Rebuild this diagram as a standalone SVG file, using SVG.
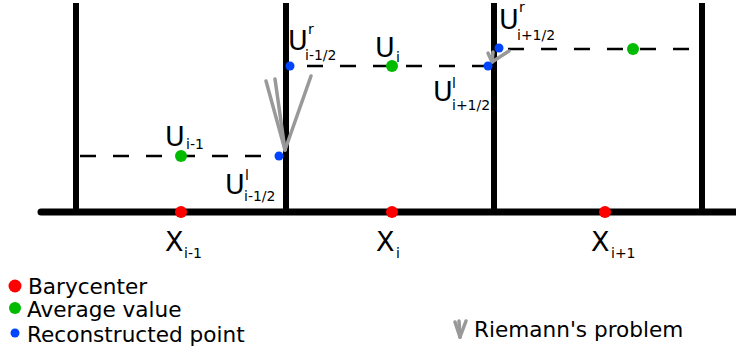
<svg xmlns="http://www.w3.org/2000/svg" width="736" height="349" viewBox="0 0 736 349">
<style>
.ax{stroke:#000;stroke-width:7;stroke-linecap:round;fill:none}
.vl{stroke:#000;stroke-width:6;fill:none}
.ds{stroke:#000;stroke-width:2.6;stroke-dasharray:16 17;fill:none}
.rm{stroke:#999;stroke-width:3.5;stroke-linecap:round;fill:none}
.r{fill:#ff0000}.g{fill:#00bb00}.b{fill:#0044ff}
text{font-family:"DejaVu Sans",sans-serif;fill:#000}
.big{font-size:27px}.sm{font-size:14px}.lg{font-size:21.6px}
</style>
<g id="grid">
<line class="ax" x1="41" y1="212" x2="740" y2="212"/>
<line class="vl" x1="76" y1="3" x2="76" y2="212"/>
<line class="vl" x1="286" y1="3" x2="286" y2="212"/>
<line class="vl" x1="494" y1="3" x2="494" y2="212"/>
<line class="vl" x1="702" y1="3" x2="702" y2="212"/>
</g>
<g id="connectors">
<line class="ds" x1="80" y1="156" x2="282" y2="156"/>
<line class="ds" x1="307" y1="66" x2="488" y2="66"/>
<line class="ds" x1="508" y1="49" x2="702" y2="49"/>
<line class="rm" x1="285" y1="150" x2="266" y2="81"/>
<line class="rm" x1="285" y1="150" x2="275" y2="79"/>
<line class="rm" x1="285" y1="150" x2="311" y2="76"/>
<line class="rm" x1="492" y1="62" x2="488" y2="53"/>
<line class="rm" x1="492" y1="62" x2="493" y2="52"/>
<line class="rm" x1="492" y1="62" x2="509" y2="51"/>
</g>
<g id="cell-i-1">
<circle class="r" cx="181" cy="212" r="6"/>
<circle class="g" cx="181" cy="156" r="6"/>
<text class="big" x="165" y="146">U</text><text class="sm" x="186" y="149">i-1</text>
<text class="big" x="165" y="251">X</text><text class="sm" x="184" y="258">i-1</text>
</g>
<g id="iface-i-1/2">
<circle class="b" cx="279" cy="156" r="4.5"/>
<circle class="b" cx="290" cy="66" r="4.5"/>
<text class="big" x="225" y="194">U</text><text class="sm" x="245" y="180">l</text><text class="sm" x="244" y="201">i-1/2</text>
<text class="big" x="288" y="50">U</text><text class="sm" x="308" y="34">r</text><text class="sm" x="305" y="60">i-1/2</text>
</g>
<g id="cell-i">
<circle class="r" cx="392" cy="212" r="6"/>
<circle class="g" cx="392" cy="66" r="6"/>
<text class="big" x="375" y="57">U</text><text class="sm" x="396" y="62">i</text>
<text class="big" x="376" y="251">X</text><text class="sm" x="396" y="258">i</text>
</g>
<g id="iface-i+1/2">
<circle class="b" cx="488" cy="66" r="4.5"/>
<circle class="b" cx="499" cy="48" r="4.5"/>
<text class="big" x="433" y="101">U</text><text class="sm" x="452" y="88">l</text><text class="sm" x="452" y="110">i+1/2</text>
<text class="big" x="499" y="29">U</text><text class="sm" x="519" y="12">r</text><text class="sm" x="517" y="40">i+1/2</text>
</g>
<g id="cell-i+1">
<circle class="r" cx="605" cy="212" r="6"/>
<circle class="g" cx="633" cy="49" r="6"/>
<text class="big" x="591" y="251">X</text><text class="sm" x="611" y="258">i+1</text>
</g>
<g id="legend">
<circle class="r" cx="15" cy="286" r="6.5"/><text class="lg" x="28" y="294">Barycenter</text>
<circle class="g" cx="15" cy="308" r="6"/><text class="lg" x="27" y="317">Average value</text>
<circle class="b" cx="15" cy="333" r="4.5"/><text class="lg" x="27" y="342">Reconstructed point</text>
<line class="rm" x1="460" y1="337" x2="455" y2="322"/>
<line class="rm" x1="460" y1="337" x2="459" y2="321"/>
<line class="rm" x1="460" y1="337" x2="466" y2="321"/>
<text class="lg" x="474" y="337">Riemann's problem</text>
</g>
</svg>
